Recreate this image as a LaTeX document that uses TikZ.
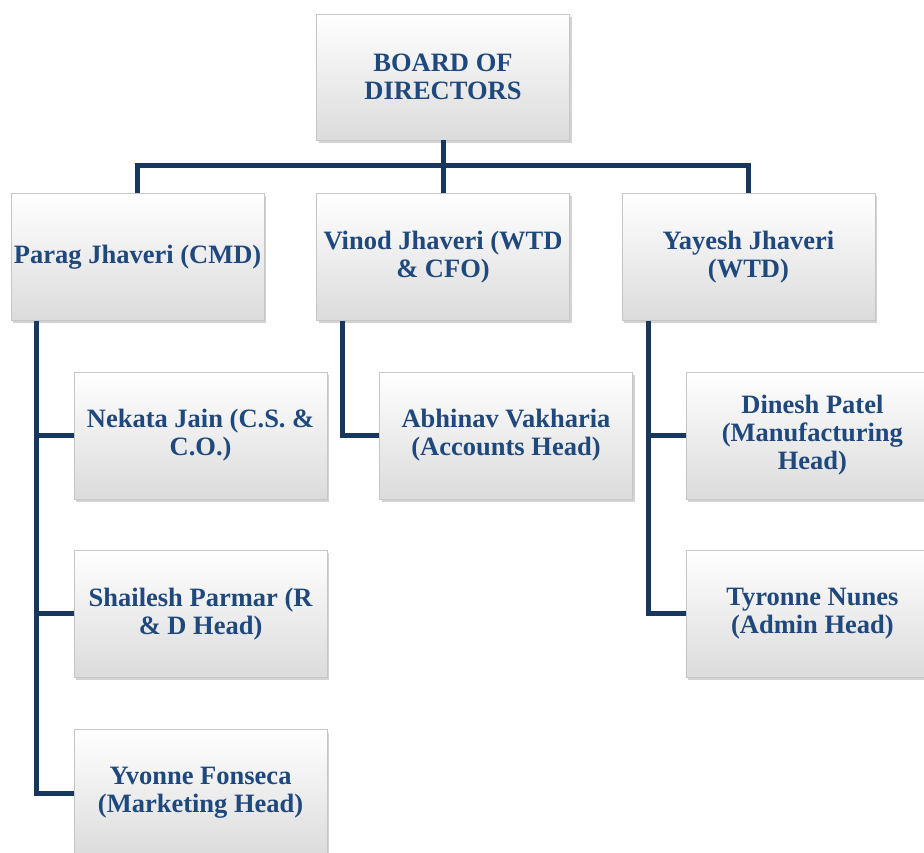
\documentclass[tikz,border=0pt]{standalone}
\usepackage{fontspec}
\setmainfont{Liberation Serif}
\usepackage{tikz}
\usetikzlibrary{shadows, calc, positioning}
\definecolor{textblue}{RGB}{31,73,125}
\definecolor{linenavy}{RGB}{23,55,94}
\tikzstyle{post} = [rectangle, minimum width=253pt, minimum height=127pt, align=center, inner sep=2pt, draw=gray!45, thin, top color=white, bottom color=gray!28, drop shadow={shadow xshift=2pt, shadow yshift=-3pt, opacity=0.35}, text=textblue, font=\fontsize{26.5}{28}\selectfont\bfseries]
\tikzstyle{link} = [line width=5pt, draw=linenavy]

\begin{document}
\begin{tikzpicture}[node distance = 52pt]
		\useasboundingbox (0,0) rectangle (924pt,-852pt);
		\node (Board) [post, minimum height=126pt] at (443pt,-77pt) {BOARD OF\\DIRECTORS};
		\node (Director02) [post, below = 53pt of Board] {Vinod Jhaveri (WTD\\\& CFO)};
		\node (Director01) [post, left = of Director02] {Parag Jhaveri (CMD)};
		\node (Director03) [post, right = of Director02] {Yayesh Jhaveri\\(WTD)};

		\node (Head01) [post, below = 51pt of Director01, xshift=63pt] {Nekata Jain (C.S. \&\\C.O.)};
		\node (Head02) [post, below = 51pt of Head01] {Shailesh Parmar (R\\\& D Head)};
		\node (Head03) [post, below = of Head02] {Yvonne Fonseca\\(Marketing Head)};
		\node (Head04) [post, below = 51pt of Director02, xshift=63pt] {Abhinav Vakharia\\(Accounts Head)};
		\node (Head05) [post, below = 51pt of Director03, xshift=64pt] {Dinesh Patel\\(Manufacturing\\Head)};
		\node (Head06) [post, below = 51pt of Head05] {Tyronne Nunes\\(Admin Head)};

		% board to directors
		\draw [link] (Board.south) -- ++(0,-25pt) coordinate (Bus);
		\draw [link] (Director01.north) |- (Bus) -| (Director03.north);
		\draw [link] (Bus) -- (Director02.north);

		% directors to heads
		\coordinate (Trunk01) at ($(Director01.south west) + (26pt,0)$);
		\coordinate (Trunk02) at ($(Director02.south west) + (26pt,0)$);
		\coordinate (Trunk03) at ($(Director03.south west) + (27pt,0)$);
		\draw [link] (Trunk01) |- (Head01.west);
		\draw [link] (Trunk01) |- (Head02.west);
		\draw [link] (Trunk01) |- (Head03.west);
		\draw [link] (Trunk02) |- (Head04.west);
		\draw [link] (Trunk03) |- (Head05.west);
		\draw [link] (Trunk03) |- (Head06.west);
	\end{tikzpicture}
\end{document}
